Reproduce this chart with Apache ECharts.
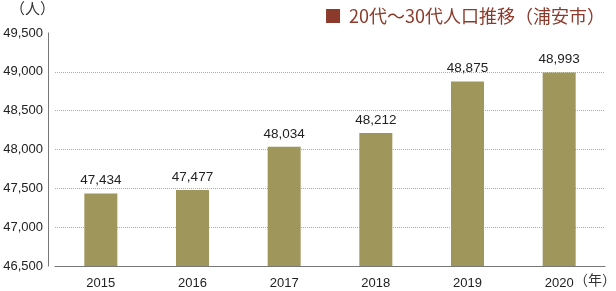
<!DOCTYPE html>
<html><head><meta charset="utf-8">
<script src="https://cdn.jsdelivr.net/npm/echarts@6/dist/echarts.min.js"></script>
<style>html,body{margin:0;padding:0;background:#fff}#c{width:616px;height:291px}</style>
</head><body><div id="c"></div>
<script>
const categories = ['2015','2016','2017','2018','2019','2020'];
const values = [47434, 47477, 48034, 48212, 48875, 48993];
const seriesName = '20代～30代人口推移（浦安市）';
const yUnit = '（人）';
const xUnit = '（年）';

const chart = echarts.init(document.getElementById('c'));
chart.setOption({
  animation: false,
  textStyle: {fontFamily: 'Liberation Sans, Arial, sans-serif'},
  grid: {left: 55, right: 11, top: 33, bottom: 25, containLabel: false},
  legend: {
    data: [{name: seriesName, icon: 'rect', itemStyle: {color: '#8b3a2b'}}],
    right: 6, top: 2, itemWidth: 14, itemHeight: 14, itemGap: 8,
    textStyle: {color: '#8b3a2b', fontSize: 18, fontFamily: 'Noto Sans CJK JP', padding: [0, 0, 0, 4]}
  },
  xAxis: {
    type: 'category', data: categories,
    axisLine: {lineStyle: {color: '#777', width: 1}},
    axisTick: {show: false},
    axisLabel: {color: '#222', fontSize: 13, margin: 11}
  },
  yAxis: {
    type: 'value', min: 46500, max: 49500, interval: 500, offset: 7,
    axisLine: {show: true, lineStyle: {color: '#777', width: 1}},
    axisTick: {show: false},
    axisLabel: {color: '#222', fontSize: 13, margin: 5,
      formatter: v => v.toLocaleString('en-US')},
    splitLine: {show: true, showMaxLine: false, showMinLine: false,
      lineStyle: {color: '#aaa', type: [1, 1], width: 1}}
  },
  series: [{
    name: seriesName, type: 'bar', data: values, barWidth: 33,
    itemStyle: {color: '#9e965a'},
    label: {show: true, position: 'top', distance: 6, color: '#222', fontSize: 13.5,
      formatter: p => p.value.toLocaleString('en-US')}
  }],
  graphic: [
    {type: 'text', left: 10, top: 1, style: {text: yUnit, fontSize: 15, fill: '#333', fontFamily: 'Noto Sans CJK JP'}},
    {type: 'text', right: 0, top: 273, style: {text: xUnit, fontSize: 14, fill: '#333', fontFamily: 'Noto Sans CJK JP'}}
  ]
});
</script></body></html>
